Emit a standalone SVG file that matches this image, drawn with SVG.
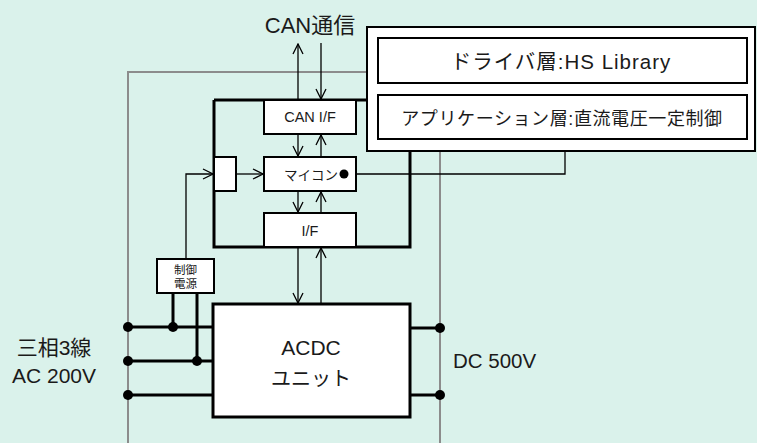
<svg xmlns="http://www.w3.org/2000/svg" width="757" height="443" viewBox="0 0 757 443">
<defs>
<marker id="ah" viewBox="0 0 12 12" refX="11" refY="6" markerWidth="12" markerHeight="12" markerUnits="userSpaceOnUse" orient="auto">
<path d="M1,1 L11,6 L1,11" fill="none" stroke="#000" stroke-width="1.3"/>
</marker>
</defs>
<style>
text{font-family:"Liberation Sans","Noto Sans CJK JP",sans-serif;fill:#1a1a1a}
.box{fill:#fff;stroke:#000;stroke-width:2}
.thick{fill:#fff;stroke:#000;stroke-width:3}
.gray{fill:none;stroke:#8c8c8c;stroke-width:2}
.w{fill:none;stroke:#000;stroke-width:1.3}
.bw{fill:none;stroke:#000;stroke-width:3}
.arr{fill:none;stroke:#000;stroke-width:1.3;marker-end:url(#ah)}
</style>
<rect width="757" height="443" fill="#daf2eb"/>
<g id="frame">
<path class="gray" d="M128,443 V72 H380"/>
<path class="gray" d="M440,140 V443"/>
</g>
<g id="controller">
<path class="bw" d="M214,100 H380 M214,100 V247 H410 V140"/>
</g>
<g id="connectors">
<path class="arr" d="M298,100 V44"/>
<path class="arr" d="M321,43 V99"/>
<path class="arr" d="M298,134 V156"/>
<path class="arr" d="M321,157 V135"/>
<path class="arr" d="M298,191 V212"/>
<path class="arr" d="M321,213 V192"/>
<path class="arr" d="M298,247 V303"/>
<path class="arr" d="M321,304 V248"/>
<path class="arr" d="M236,174 H263"/>
<path class="arr" d="M186,259 V174 H213"/>
<path class="w" d="M344,174 H565 V150"/>
<path class="bw" d="M128,327 H213 M128,361 H213 M128,395 H213"/>
<path class="bw" d="M173,293 V327 M197,293 V361"/>
<path class="bw" d="M410,328 H440 M410,395 H440"/>
</g>
<g id="dots" fill="#000">
<circle cx="128" cy="327" r="5"/>
<circle cx="128" cy="361" r="5"/>
<circle cx="128" cy="395" r="5"/>
<circle cx="173" cy="327" r="5"/>
<circle cx="197" cy="361" r="5"/>
<circle cx="440" cy="328" r="5"/>
<circle cx="440" cy="395" r="5"/>
</g>
<g id="can-if">
<rect class="box" x="264" y="100" width="92" height="34"/>
<text x="310" y="122" font-size="14.5" text-anchor="middle">CAN I/F</text>
</g>
<g id="mcu">
<rect class="box" x="264" y="157" width="92" height="34"/>
<text x="338" y="180" font-size="13.5" text-anchor="end">マイコン</text>
<circle cx="344" cy="174" r="4.5" fill="#000"/>
</g>
<g id="small-block">
<rect class="box" x="214" y="157" width="22" height="34"/>
</g>
<g id="if">
<rect class="box" x="264" y="213" width="92" height="34"/>
<text x="310" y="236" font-size="14.5" text-anchor="middle">I/F</text>
</g>
<g id="power">
<rect class="box" x="157" y="259" width="57" height="34"/>
<text x="185.5" y="274" font-size="11.5" text-anchor="middle">制御</text>
<text x="185.5" y="288" font-size="11.5" text-anchor="middle">電源</text>
</g>
<g id="acdc">
<rect class="thick" x="213" y="304" width="197" height="113"/>
<text x="311" y="355" font-size="21" text-anchor="middle">ACDC</text>
<text x="311" y="386" font-size="20" text-anchor="middle">ユニット</text>
</g>
<g id="software">
<rect class="box" x="367" y="27" width="388" height="124"/>
<rect class="box" x="378" y="38" width="369" height="45"/>
<text x="561" y="69" font-size="20.5" letter-spacing="1" text-anchor="middle">ドライバ層:HS Library</text>
<rect class="box" x="378" y="95" width="369" height="44"/>
<text x="562" y="125" font-size="18" letter-spacing="0.6" text-anchor="middle">アプリケーション層:直流電圧一定制御</text>
</g>
<g id="labels">
<text x="310" y="33" font-size="22" text-anchor="middle">CAN通信</text>
<text x="54" y="355" font-size="21" text-anchor="middle">三相3線</text>
<text x="54" y="383" font-size="21" text-anchor="middle">AC 200V</text>
<text x="453" y="368" font-size="20.5">DC 500V</text>
</g>
</svg>
